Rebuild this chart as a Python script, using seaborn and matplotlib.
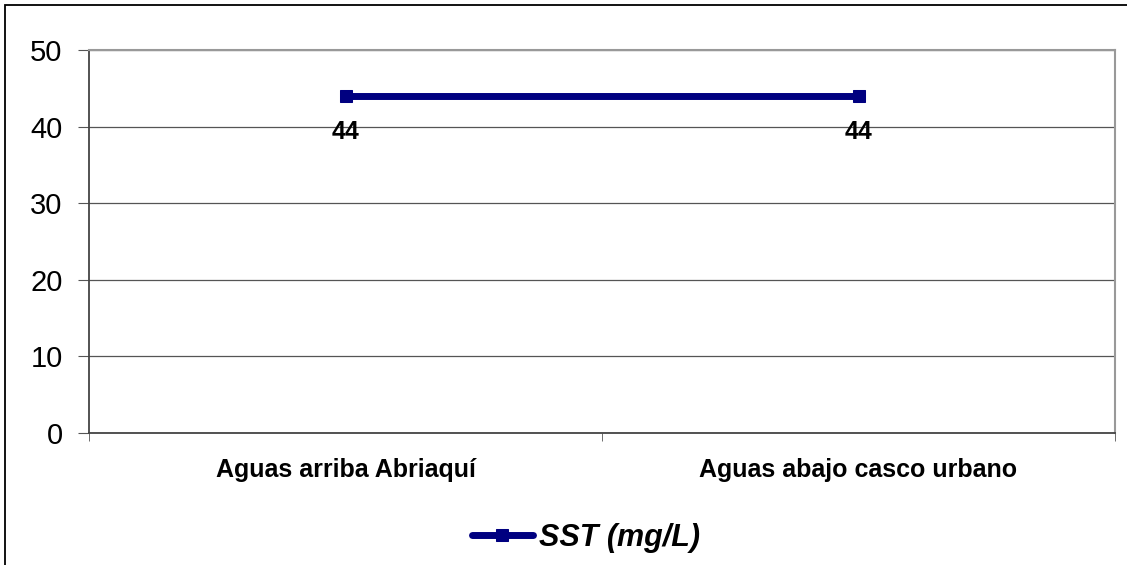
import matplotlib
matplotlib.use("Agg")
import matplotlib.pyplot as plt
import matplotlib.patches as mpatches
import seaborn as sns
import pandas as pd

categories = ["Aguas arriba Abriaquí", "Aguas abajo casco urbano"]
sst_values = [44, 44]
series_name = "SST (mg/L)"
y_ticks = [0, 10, 20, 30, 40, 50]

sns.set_style("white")
plt.rcParams['font.family'] = ['Liberation Sans', 'DejaVu Sans']
plt.rcParams['text.color'] = 'black'

df = pd.DataFrame({"x": list(range(len(categories))), "y": sst_values, "serie": series_name})

W, H = 1127, 565
fig = plt.figure(figsize=(W / 100, H / 100), dpi=100)
ax = fig.add_axes([89 / W, (H - 433) / H, 1026 / W, 383 / H])

sns.lineplot(data=df, x="x", y="y", ax=ax, color="#000080", linewidth=5,
             marker="s", markersize=9, markeredgecolor="#000080", label=series_name)

ax.set_xlim(-0.5, len(categories) - 0.5)
ax.set_ylim(0, 50)
ax.set_yticks(y_ticks)
ax.set_yticklabels([str(t) for t in y_ticks], fontsize=21, color="black")
ax.set_xticks(range(len(categories)))
ax.set_xticklabels(categories, fontsize=18, fontweight="bold", color="black")
ax.tick_params(axis="x", which="major", length=0, pad=18)
ax.set_xticks([i - 0.5 for i in range(len(categories) + 1)], minor=True)
ax.tick_params(axis="x", which="minor", length=6, color="#555555", direction="out", bottom=True)
ax.tick_params(axis="y", length=8, color="#555555", direction="out", left=True, pad=11)
ax.set_xlabel("")
ax.set_ylabel("")

ax.grid(axis="y", color="#555555", linewidth=0.9)
ax.set_axisbelow(True)
for side in ["left", "bottom"]:
    ax.spines[side].set_color("#444444")
    ax.spines[side].set_linewidth(1.3)
for side in ["top", "right"]:
    ax.spines[side].set_color("#999999")
    ax.spines[side].set_linewidth(1.5)

for xi, yi in zip(df["x"], df["y"]):
    ax.annotate(str(yi), (xi, yi), xytext=(0, -26), textcoords="offset points",
                ha="center", va="center", fontsize=18, fontweight="bold", color="black")

leg = ax.legend(loc="center", bbox_to_anchor=(586 / W, (H - 538) / H),
                bbox_transform=fig.transFigure, frameon=False, handlelength=2.0,
                handletextpad=0.2, borderpad=0,
                prop={"size": 22, "weight": "bold", "style": "italic"})
for line in leg.get_lines():
    line.set_markersize(9)
for t in leg.get_texts():
    t.set_color("black")

fig.patches.append(mpatches.Rectangle((5 / W, -0.1), 2.0, (H - 5) / H + 0.1,
                                      transform=fig.transFigure, fill=False,
                                      edgecolor="black", linewidth=1.3))

fig.savefig("out.png", dpi=100)
